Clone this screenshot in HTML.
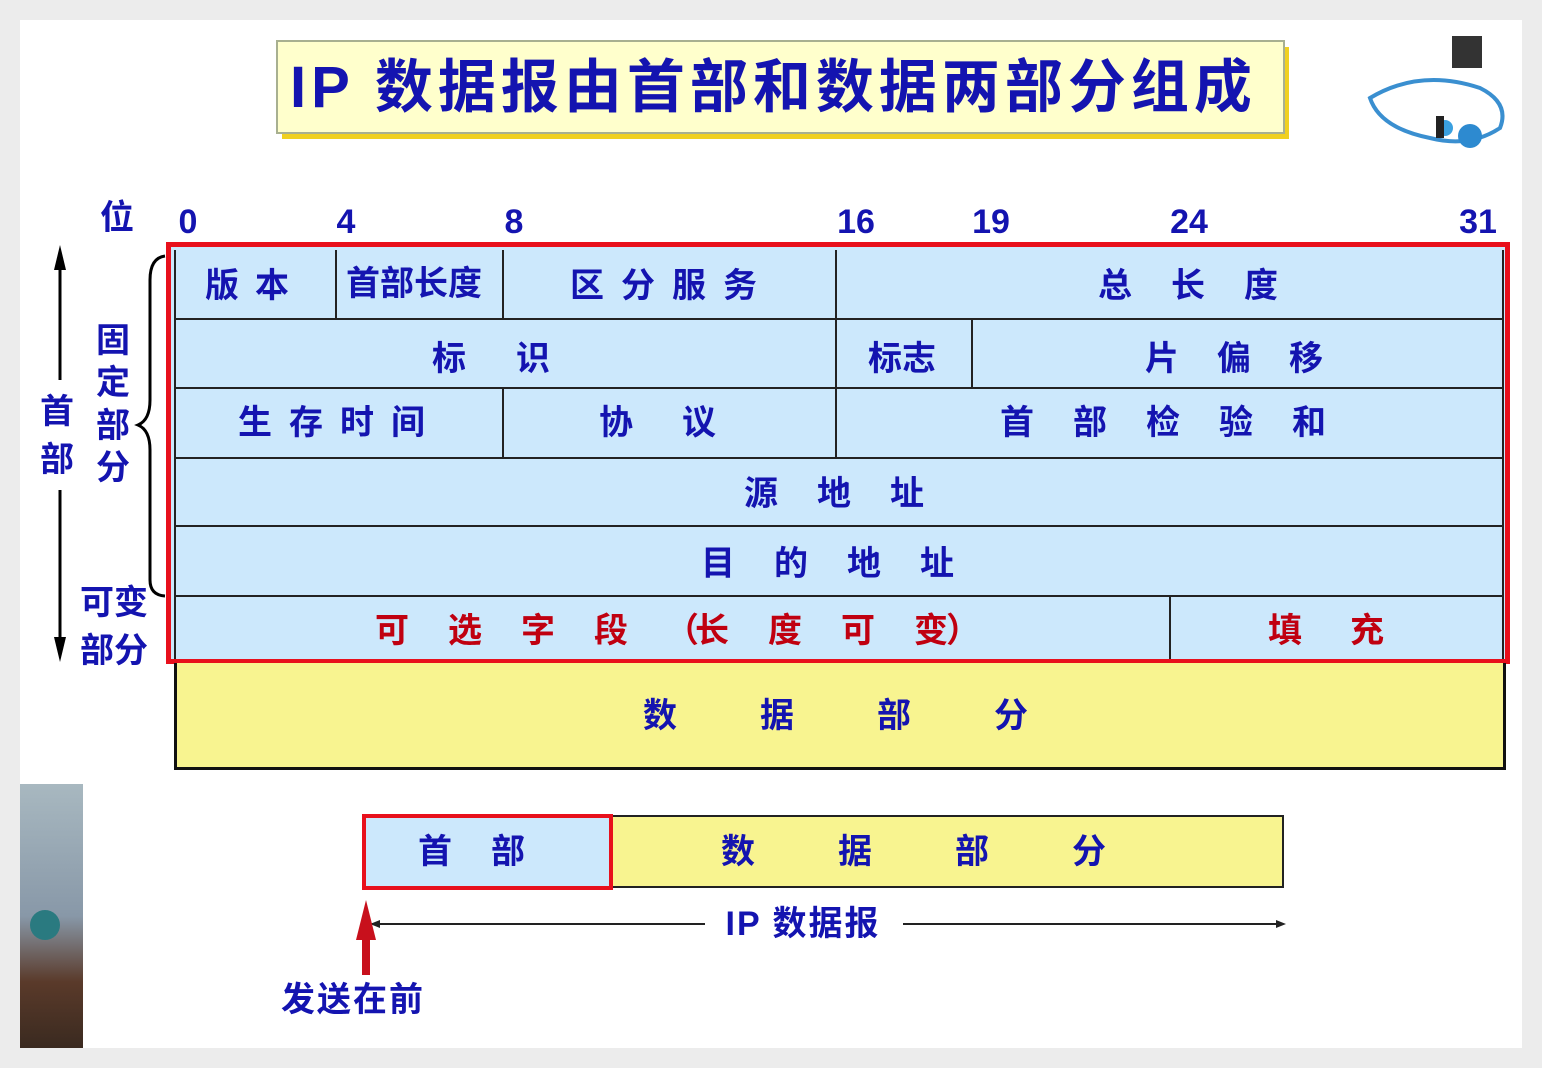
<!DOCTYPE html>
<html><head><meta charset="utf-8"><style>
body{margin:0;width:1542px;height:1068px;background:#ececec;position:relative;overflow:hidden;font-family:"Liberation Sans","Noto Sans CJK SC",sans-serif;}
.a{position:absolute;}
.card{left:20px;top:20px;width:1502px;height:1028px;background:#fff;}
.t{position:absolute;color:#1414b0;font-weight:bold;font-size:34px;white-space:nowrap;transform:translate(-50%,-50%);line-height:1;}
.s{position:absolute;color:#1414b0;font-weight:bold;font-size:34px;white-space:nowrap;transform:translateY(-50%);line-height:1;}
.hl{position:absolute;height:2px;background:#222;}
.vl{position:absolute;width:2px;background:#222;}
.r{color:#c00010;}
</style></head><body>
<div class="a card"></div>
<!-- title -->
<div class="a" style="left:282px;top:47px;width:1007px;height:92px;background:#f0d020;"></div>
<div class="a" style="left:276px;top:40px;width:1005px;height:90px;background:#ffffcc;border:2px solid #a8b090;"></div>
<div class="s" style="left:290px;top:88px;font-size:58px;letter-spacing:5px;">IP 数据报由首部和数据两部分组成</div>
<!-- logo blob -->
<svg class="a" style="left:1350px;top:28px" width="170" height="130">
<rect x="102" y="8" width="30" height="32" fill="#333"/>
<path d="M20 70 Q70 40 130 60 Q160 75 150 100 Q120 120 80 110 Q30 100 20 70Z" fill="none" stroke="#3a8fd0" stroke-width="4"/>
<circle cx="120" cy="108" r="12" fill="#2d8ad0"/><circle cx="95" cy="100" r="8" fill="#3aa0e0"/>
<rect x="86" y="88" width="8" height="22" fill="#222"/>
</svg>
<!-- bit numbers -->
<div class="t" style="left:117px;top:218px;">位</div>
<div class="t" style="left:188px;top:222px;">0</div>
<div class="t" style="left:346px;top:222px;">4</div>
<div class="t" style="left:514px;top:222px;">8</div>
<div class="t" style="left:856px;top:222px;">16</div>
<div class="t" style="left:991px;top:222px;">19</div>
<div class="t" style="left:1189px;top:222px;">24</div>
<div class="t" style="left:1478px;top:222px;">31</div>
<!-- header grid -->
<div class="a" style="left:170px;top:245px;width:1336px;height:416px;background:#cce8fc;"></div>
<div class="hl" style="left:175px;top:318px;width:1328px;"></div>
<div class="hl" style="left:175px;top:387px;width:1328px;"></div>
<div class="hl" style="left:175px;top:457px;width:1328px;"></div>
<div class="hl" style="left:175px;top:525px;width:1328px;"></div>
<div class="hl" style="left:175px;top:595px;width:1328px;"></div>
<div class="vl" style="left:335px;top:250px;height:68px;"></div>
<div class="vl" style="left:502px;top:250px;height:68px;"></div>
<div class="vl" style="left:835px;top:250px;height:207px;"></div>
<div class="vl" style="left:502px;top:388px;height:69px;"></div>
<div class="vl" style="left:971px;top:318px;height:70px;"></div>
<div class="vl" style="left:1169px;top:595px;height:66px;"></div>
<div class="vl" style="left:174px;top:250px;height:410px;"></div>
<div class="vl" style="left:1502px;top:250px;height:410px;"></div>
<div class="a" style="left:166px;top:242px;width:1334px;height:412px;border:5px solid #e8101c;"></div>
<div class="s" style="left:205px;top:286px;letter-spacing:16px;">版本</div>
<div class="t" style="left:414px;top:284px;">首部长度</div>
<div class="s" style="left:570px;top:286px;letter-spacing:17px;">区分服务</div>
<div class="s" style="left:1098px;top:286px;letter-spacing:39px;">总长度</div>
<div class="s" style="left:432px;top:359px;letter-spacing:50px;">标识</div>
<div class="t" style="left:902px;top:359px;">标志</div>
<div class="s" style="left:1145px;top:359px;letter-spacing:38px;">片偏移</div>
<div class="s" style="left:238px;top:423px;letter-spacing:17px;">生存时间</div>
<div class="s" style="left:599px;top:423px;letter-spacing:49px;">协议</div>
<div class="s" style="left:1000px;top:423px;letter-spacing:39px;">首部检验和</div>
<div class="s" style="left:744px;top:494px;letter-spacing:39px;">源地址</div>
<div class="s" style="left:701px;top:564px;letter-spacing:39px;">目的地址</div>
<div class="s r" style="left:375px;top:631px;letter-spacing:39px;">可选字段</div>
<div class="s r" style="left:665px;top:631px;">（</div>
<div class="s r" style="left:695px;top:631px;letter-spacing:39px;">长度可变</div>
<div class="s r" style="left:946px;top:631px;">）</div>
<div class="s r" style="left:1268px;top:631px;letter-spacing:48px;">填充</div>
<!-- data box -->
<div class="a" style="left:174px;top:663px;width:1326px;height:104px;background:#f8f490;border:3px solid #111;border-top:none;"></div>
<div class="s" style="left:643px;top:716px;letter-spacing:83px;">数据部分</div>
<!-- left labels -->
<svg class="a" style="left:40px;top:240px" width="130" height="430">
<line x1="20" y1="15" x2="20" y2="140" stroke="#000" stroke-width="3"/>
<polygon points="20,5 14,30 26,30" fill="#000"/>
<line x1="20" y1="250" x2="20" y2="405" stroke="#000" stroke-width="3"/>
<polygon points="20,422 14,397 26,397" fill="#000"/>
<path d="M125 16 Q110 18 110 40 L110 160 Q110 180 98 185 Q110 190 110 210 L110 340 Q110 355 125 356" fill="none" stroke="#000" stroke-width="3"/>
</svg>
<div class="t" style="left:57px;top:412px;">首</div>
<div class="t" style="left:57px;top:460px;">部</div>
<div class="t" style="left:113px;top:341px;">固</div>
<div class="t" style="left:113px;top:383px;">定</div>
<div class="t" style="left:113px;top:426px;">部</div>
<div class="t" style="left:113px;top:468px;">分</div>
<div class="t" style="left:114px;top:603px;">可变</div>
<div class="t" style="left:114px;top:651px;">部分</div>
<!-- bottom -->
<div class="a" style="left:608px;top:815px;width:672px;height:69px;background:#f8f490;border:2px solid #222;"></div>
<div class="a" style="left:362px;top:814px;width:243px;height:68px;background:#cce8fc;border:4px solid #e8101c;"></div>
<div class="s" style="left:418px;top:852px;letter-spacing:39px;">首部</div>
<div class="s" style="left:721px;top:852px;letter-spacing:83px;">数据部分</div>
<svg class="a" style="left:340px;top:895px" width="960" height="90">
<line x1="30" y1="29" x2="365" y2="29" stroke="#222" stroke-width="2"/>
<line x1="563" y1="29" x2="940" y2="29" stroke="#222" stroke-width="2"/>
<polygon points="30,29 40,25 40,33" fill="#222"/>
<polygon points="946,29 936,25 936,33" fill="#222"/>
<polygon points="26,5 16,45 36,45" fill="#c8101c"/>
<rect x="22" y="40" width="8" height="40" fill="#c8101c"/>
</svg>
<div class="t" style="left:803px;top:924px;letter-spacing:2px;">IP 数据报</div>
<div class="t" style="left:353px;top:1000px;letter-spacing:2px;">发送在前</div>
<!-- photo -->
<div class="a" style="left:20px;top:784px;width:63px;height:264px;background:linear-gradient(#a8b8c0,#8898a8 50%,#5a3a2a 75%,#3a2a20);"></div>
<div class="a" style="left:30px;top:910px;width:30px;height:30px;border-radius:50%;background:#2a7a80;"></div>
</body></html>
